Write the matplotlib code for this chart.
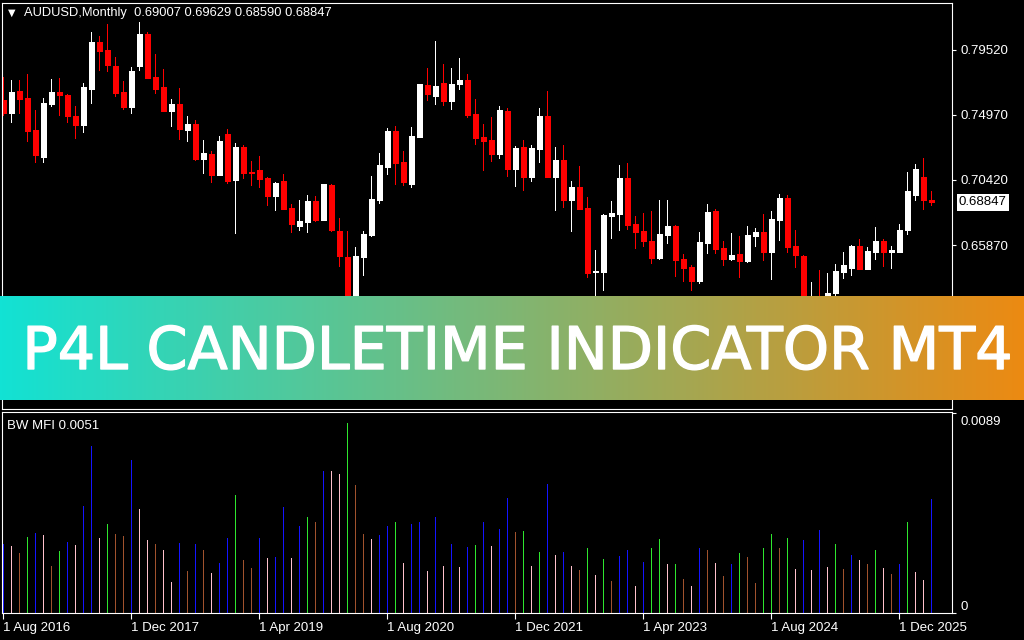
import matplotlib.pyplot as plt
import numpy as np
from matplotlib import patheffects
from matplotlib.transforms import ScaledTranslation

plt.rcParams['font.family'] = 'Liberation Sans'

# AUDUSD monthly bars, 1 Aug 2016 .. Apr 2026
opens = [0.7602, 0.7511, 0.7665, 0.7616, 0.7392, 0.7203, 0.7574, 0.7658, 0.7637, 0.7490,
         0.7427, 0.7679, 0.8008, 0.7952, 0.7840, 0.7658, 0.7553, 0.7840, 0.8064, 0.7763,
         0.7693, 0.7525, 0.7574, 0.7392, 0.7434, 0.7189, 0.7224, 0.7077, 0.7364, 0.7042,
         0.7273, 0.7098, 0.7112, 0.7056, 0.6930, 0.7035, 0.6846, 0.6720, 0.6748, 0.6895,
         0.6762, 0.7007, 0.6685, 0.6505, 0.6135, 0.6503, 0.6657, 0.6902, 0.7133, 0.7385,
         0.7168, 0.7014, 0.7343, 0.7707, 0.7630, 0.7721, 0.7595, 0.7714, 0.7742, 0.7504,
         0.7343, 0.7322, 0.7224, 0.7525, 0.7119, 0.7273, 0.7063, 0.7259, 0.7490, 0.7063,
         0.7182, 0.6902, 0.6993, 0.6846, 0.6398, 0.6398, 0.6790, 0.6804, 0.7056, 0.6734,
         0.6685, 0.6615, 0.6496, 0.6657, 0.6720, 0.6489, 0.6433, 0.6335, 0.6601, 0.6825,
         0.6566, 0.6489, 0.6524, 0.6475, 0.6650, 0.6678, 0.6538, 0.6762, 0.6916, 0.6580,
         0.6510, 0.6188, 0.6217, 0.6209, 0.6249, 0.6398, 0.6426, 0.6580, 0.6419, 0.6538,
         0.6615, 0.6538, 0.6538, 0.6692, 0.6937, 0.7063, 0.69007]
highs = [0.7761, 0.7742, 0.7742, 0.7784, 0.7532, 0.7616, 0.7749, 0.7756, 0.7644, 0.7560,
         0.7721, 0.8078, 0.8050, 0.8134, 0.7903, 0.7735, 0.7833, 0.8148, 0.8078, 0.7924,
         0.7819, 0.7609, 0.7686, 0.7490, 0.7462, 0.7322, 0.7245, 0.7350, 0.7399, 0.7301,
         0.7287, 0.7175, 0.7210, 0.7063, 0.7028, 0.7084, 0.6874, 0.6902, 0.6937, 0.6930,
         0.7016, 0.7014, 0.6776, 0.6685, 0.6573, 0.6685, 0.7070, 0.7231, 0.7406, 0.7420,
         0.7245, 0.7413, 0.7716, 0.7826, 0.8015, 0.7854, 0.7826, 0.7896, 0.7784, 0.7609,
         0.7434, 0.7483, 0.7560, 0.7546, 0.7280, 0.7322, 0.7287, 0.7546, 0.7665, 0.7273,
         0.7287, 0.7035, 0.7140, 0.6923, 0.6552, 0.6804, 0.6895, 0.7147, 0.7161, 0.6790,
         0.6811, 0.6825, 0.6902, 0.6902, 0.6727, 0.6524, 0.6447, 0.6678, 0.6874, 0.6839,
         0.6615, 0.6671, 0.6650, 0.6720, 0.6706, 0.6804, 0.6825, 0.6944, 0.6937, 0.6692,
         0.6517, 0.6331, 0.6409, 0.6391, 0.6454, 0.6538, 0.6587, 0.6629, 0.6573, 0.6713,
         0.6629, 0.6580, 0.6734, 0.7098, 0.7154, 0.7196, 0.69629]
lows = [0.7490, 0.7443, 0.7504, 0.7308, 0.7161, 0.7161, 0.7553, 0.7490, 0.7441, 0.7329,
        0.7371, 0.7574, 0.7805, 0.7798, 0.7623, 0.7532, 0.7504, 0.7805, 0.7750, 0.7644,
        0.7520, 0.7413, 0.7322, 0.7308, 0.7175, 0.7084, 0.7021, 0.7072, 0.7014, 0.6664,
        0.7049, 0.7000, 0.6986, 0.6860, 0.6825, 0.6832, 0.6671, 0.6685, 0.6671, 0.6748,
        0.6755, 0.6678, 0.6433, 0.5506, 0.5980, 0.6370, 0.6643, 0.6874, 0.7077, 0.7007,
        0.7000, 0.6986, 0.7340, 0.7595, 0.7567, 0.7560, 0.7532, 0.7672, 0.7476, 0.7287,
        0.7105, 0.7168, 0.7189, 0.7063, 0.6993, 0.6965, 0.7028, 0.7161, 0.7056, 0.6825,
        0.6846, 0.6678, 0.6832, 0.6356, 0.6170, 0.6265, 0.6629, 0.6685, 0.6692, 0.6559,
        0.6573, 0.6454, 0.6482, 0.6594, 0.6363, 0.6328, 0.6265, 0.6314, 0.6524, 0.6524,
        0.6440, 0.6475, 0.6356, 0.6461, 0.6573, 0.6475, 0.6342, 0.6615, 0.6531, 0.6426,
        0.6178, 0.6088, 0.6187, 0.6187, 0.5914, 0.6349, 0.6370, 0.6414, 0.6412, 0.6482,
        0.6433, 0.6419, 0.6531, 0.6657, 0.6895, 0.6832, 0.68590]
closes = [0.7509, 0.7658, 0.7609, 0.7385, 0.7217, 0.7581, 0.7658, 0.7637, 0.7490, 0.7427,
          0.7693, 0.8008, 0.7945, 0.7847, 0.7651, 0.7553, 0.7805, 0.8064, 0.7756, 0.7679,
          0.7525, 0.7574, 0.7399, 0.7434, 0.7189, 0.7231, 0.7077, 0.7315, 0.7035, 0.7273,
          0.7091, 0.7091, 0.7049, 0.6930, 0.7021, 0.6839, 0.6734, 0.6755, 0.6895, 0.6762,
          0.7014, 0.6692, 0.6510, 0.6135, 0.6510, 0.6664, 0.6909, 0.7147, 0.7385, 0.7161,
          0.7028, 0.7350, 0.7714, 0.7644, 0.7700, 0.7595, 0.7714, 0.7742, 0.7497, 0.7336,
          0.7315, 0.7224, 0.7532, 0.7119, 0.7266, 0.7063, 0.7266, 0.7490, 0.7063, 0.7182,
          0.6902, 0.6993, 0.6839, 0.6391, 0.6405, 0.6797, 0.6811, 0.7056, 0.6727, 0.6678,
          0.6615, 0.6496, 0.6664, 0.6720, 0.6482, 0.6426, 0.6335, 0.6608, 0.6818, 0.6559,
          0.6489, 0.6517, 0.6475, 0.6657, 0.6678, 0.6538, 0.6769, 0.6916, 0.6573, 0.6517,
          0.6188, 0.6217, 0.6209, 0.6251, 0.6405, 0.6447, 0.6580, 0.6419, 0.6545, 0.6615,
          0.6538, 0.6552, 0.6692, 0.6965, 0.7119, 0.6902, 0.68847]

# Bill Williams MFI per bar
mfi = [0.00307, 0.00298, 0.00266, 0.00338, 0.00356, 0.00347, 0.00208, 0.00275, 0.00316, 0.00302,
       0.00476, 0.00744, 0.00333, 0.00396, 0.00351, 0.00342, 0.00682, 0.00463, 0.00324, 0.00307,
       0.00280, 0.00137, 0.00311, 0.00186, 0.00307, 0.00280, 0.00177, 0.00222, 0.00333, 0.00525,
       0.00235, 0.00199, 0.00333, 0.00244, 0.00249, 0.00472, 0.00244, 0.00387, 0.00427, 0.00405,
       0.00633, 0.00633, 0.00619, 0.00847, 0.00570, 0.00351, 0.00329, 0.00347, 0.00387, 0.00405,
       0.00222, 0.00396, 0.00405, 0.00186, 0.00427, 0.00208, 0.00307, 0.00204, 0.00293, 0.00302,
       0.00405, 0.00298, 0.00374, 0.00512, 0.00360, 0.00365, 0.00208, 0.00271, 0.00574, 0.00257,
       0.00271, 0.00208, 0.00191, 0.00289, 0.00168, 0.00240, 0.00141, 0.00253, 0.00280, 0.00119,
       0.00226, 0.00289, 0.00329, 0.00217, 0.00217, 0.00150, 0.00119, 0.00289, 0.00280, 0.00222,
       0.00164, 0.00217, 0.00266, 0.00249, 0.00132, 0.00289, 0.00351, 0.00289, 0.00333, 0.00195,
       0.00324, 0.00191, 0.00369, 0.00204, 0.00307, 0.00195, 0.00257, 0.00235, 0.00217, 0.00280,
       0.00199, 0.00173, 0.00217, 0.00405, 0.00182, 0.00146, 0.00507]
# G = green (MFI up, vol up), S = brown (down/down), B = blue (up/down), P = pink (down/up)
mfi_codes = ("BPSGBPSGBP" "BBPGSSBPPS" "PPBSBSPBBG" "SSBPBBPBGS" "BPPGSSPBBG" "PBBPBPBPBG"
             "BPBBSGPGBP" "BPSGPGSBBP" "BGGPGSPBSP" "SBGSSGGSGP" "BPBPGSBPSG" "PSBGPPB")

date_ticks = [0, 16, 32, 48, 64, 80, 96, 112]
date_labels = ["1 Aug 2016", "1 Dec 2017", "1 Apr 2019", "1 Aug 2020",
               "1 Dec 2021", "1 Apr 2023", "1 Aug 2024", "1 Dec 2025"]
price_ticks = [0.65870, 0.70420, 0.74970, 0.79520]
mfi_ticks = [0, 0.0089]

symbol = "AUDUSD,Monthly"
banner_title = "P4L CANDLETIME INDICATOR MT4"

W, H = 1024, 640
fig = plt.figure(figsize=(W / 100, H / 100), dpi=100, facecolor='black')


def box(x0, y0, x1, y1):
    # pixel box (top-left origin) -> figure fraction rect
    return [x0 / W, 1 - y1 / H, (x1 - x0) / W, (y1 - y0) / H]


ax = fig.add_axes(box(2, 3, 952, 409))
sub = fig.add_axes(box(2, 412, 952, 613), sharex=ax)

for a in (ax, sub):
    a.set_facecolor('black')
    for s in a.spines.values():
        s.set_color('white')
        s.set_linewidth(0.8)

# candles: 1px wicks, 5px bodies (8px per bar)
x = np.arange(len(opens))
o, h, l, c = (np.array(v) for v in (opens, highs, lows, closes))
col = np.where(c >= o, 'white', '#ff0000')
ax.bar(x, h - l, bottom=l, width=0.125, color=col, linewidth=0, antialiased=False)
ax.bar(x, np.abs(c - o), bottom=np.minimum(o, c), width=0.625, color=col,
       edgecolor=col, linewidth=0.5, antialiased=False)

ax.set_xlim(-0.125, 118.625)
ax.set_ylim(0.5439, 0.8281)
ax.yaxis.tick_right()
ax.set_yticks(price_ticks)
ax.set_yticklabels([f'{p:.5f}' for p in price_ticks])
ax.tick_params(axis='y', colors='white', length=3, width=0.8, pad=3, labelsize=9.5)
ax.tick_params(axis='x', bottom=False, labelbottom=False)

# last price tag
ax.annotate(f'{closes[-1]:.5f}', xy=(1, closes[-1]), xycoords=('axes fraction', 'data'),
            xytext=(5, 0), textcoords='offset points', ha='left', va='center',
            color='black', fontsize=9.5, annotation_clip=False,
            bbox=dict(boxstyle='square,pad=0.18', fc='white', ec='none'))

fig.text(12 / W, 1 - 12.5 / H, '\u25bc', fontsize=7, ha='center', va='center',
         color='white', family='DejaVu Sans')
fig.text(24 / W, 1 - 13 / H,
         f'{symbol}  {opens[-1]:.5f} {highs[-1]:.5f} {lows[-1]:.5f} {closes[-1]:.5f}',
         fontsize=9.3, color='white', va='center')

# BW MFI histogram, 1px bars
cmap = {'G': '#2ee62e', 'S': '#a0522d', 'B': '#1414ff', 'P': '#ffc0cb'}
sub.bar(x, mfi, width=0.125, color=[cmap[k] for k in mfi_codes], linewidth=0,
        antialiased=False)
sub.set_ylim(0, 0.00896)
sub.yaxis.tick_right()
sub.set_yticks(mfi_ticks)
sub.set_yticklabels(['0', '0.0089'])
sub.tick_params(axis='y', colors='white', length=3, width=0.8, pad=3, labelsize=9.5)
ylabs = sub.get_yticklabels()
ylabs[0].set_va('bottom')
ylabs[1].set_va('top')
ylabs[1].set_transform(ylabs[1].get_transform()
                       + ScaledTranslation(0, -0.03, fig.dpi_scale_trans))
sub.set_xticks(date_ticks)
sub.set_xticklabels(date_labels)
sub.tick_params(axis='x', colors='white', length=4, width=0.8, pad=2.5, labelsize=9.5)
for lbl in sub.get_xticklabels():
    lbl.set_ha('left')
sub.text(5 / 950, 0.93, f'BW MFI {mfi[-1]:.4f}', transform=sub.transAxes,
         color='white', fontsize=9.5, va='center')

# gradient banner across the chart
band = fig.add_axes(box(0, 296, 1024, 400), zorder=10)
t = np.linspace(0, 1, 512)[:, None]
c0 = np.array([0x12, 0xe2, 0xd4]) / 255
c1 = np.array([0xec, 0x8a, 0x12]) / 255
band.imshow((c0 + (c1 - c0) * t)[None], aspect='auto', extent=(0, 1, 0, 1))
band.set_axis_off()
band.text(0.505, (400 - 369) / 104, banner_title, ha='center', va='baseline',
          color='white', fontsize=42.3, family='DejaVu Sans',
          path_effects=[patheffects.withStroke(linewidth=1.0, foreground='white')])

fig.savefig('out.png', dpi=100, facecolor='black')
